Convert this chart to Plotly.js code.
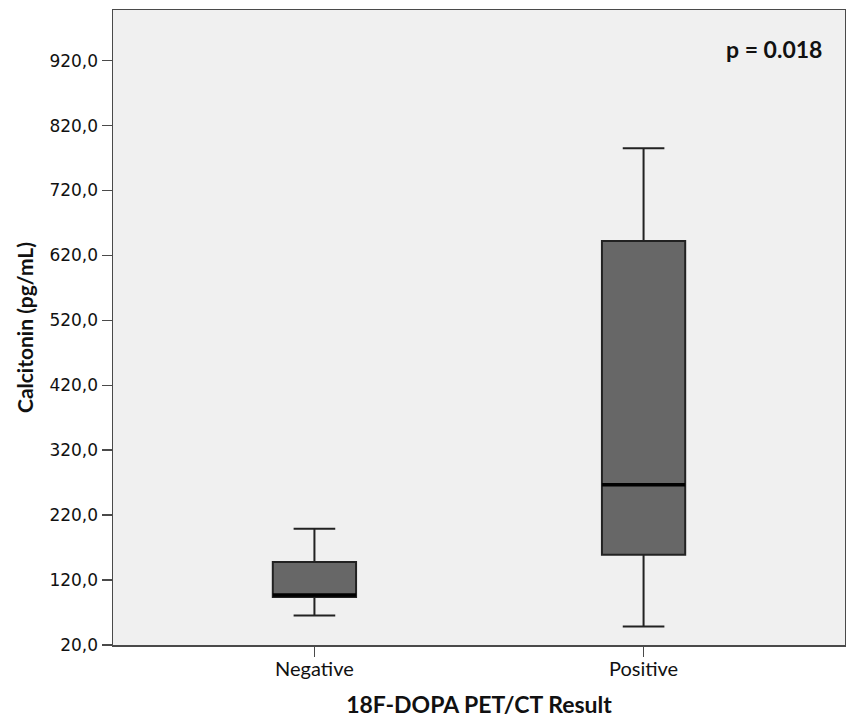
<!DOCTYPE html>
<html>
<head>
<meta charset="utf-8">
<script src="https://cdn.plot.ly/plotly-3.0.1.min.js"></script>
<style>html,body{margin:0;padding:0;background:#fff;}#chart{width:846px;height:718px;}</style>
</head>
<body>
<div id="chart"></div>
<script>
var categories = ["Negative", "Positive"];
var lowerWhisker = [65.6, 48.6];
var q1Values = [93.9, 159];
var medianValues = [97, 266.8];
var q3Values = [147.8, 642.4];
var upperWhisker = [199, 785];
var yTickValues = [20, 120, 220, 320, 420, 520, 620, 720, 820, 920];
var yTickLabels = ["20,0", "120,0", "220,0", "320,0", "420,0", "520,0", "620,0", "720,0", "820,0", "920,0"];
var pValueText = "p = 0.018";

var boxWidth = 0.253;

var trace = {
  type: "box",
  x: categories,
  lowerfence: lowerWhisker,
  q1: q1Values,
  median: medianValues,
  q3: q3Values,
  upperfence: upperWhisker,
  width: boxWidth,
  whiskerwidth: 0.5,
  fillcolor: "#676767",
  line: {color: "#222222", width: 2},
  hoverinfo: "skip",
  showlegend: false
};

var shapes = medianValues.map(function (m, i) {
  return {
    type: "line", xref: "x", yref: "y",
    x0: i - boxWidth / 2, x1: i + boxWidth / 2, y0: m, y1: m,
    line: {color: "#000000", width: 3.5}
  };
});

var layout = {
  width: 846, height: 718,
  margin: {l: 113, r: 1, t: 10, b: 73},
  paper_bgcolor: "#ffffff",
  plot_bgcolor: "#f0f0f0",
  showlegend: false,
  xaxis: {
    type: "category",
    range: [-0.612, 1.612],
    showgrid: false, zeroline: false,
    showline: true, linecolor: "#4a4a4a", linewidth: 1.5, mirror: true,
    ticks: "outside", ticklen: 10, tickwidth: 1.5, tickcolor: "#4a4a4a",
    ticklabelstandoff: -5,
    tickfont: {family: "Lato, 'Open Sans', sans-serif", size: 20, color: "#111"},
    title: {text: "18F-DOPA PET/CT Result", standoff: 21,
            font: {family: "Lato, 'Open Sans', sans-serif", size: 23, color: "#111", weight: "bold"}}
  },
  yaxis: {
    range: [20, 998],
    tickvals: yTickValues, ticktext: yTickLabels,
    showgrid: false, zeroline: false,
    showline: true, linecolor: "#4a4a4a", linewidth: 1.5, mirror: true,
    ticks: "outside", ticklen: 10, tickwidth: 1.5, tickcolor: "#4a4a4a",
    tickfont: {family: "'DejaVu Sans', sans-serif", size: 17, color: "#111"},
    title: {text: "Calcitonin (pg/mL)", standoff: 10,
            font: {family: "Lato, 'Open Sans', sans-serif", size: 21, color: "#111", weight: "bold"}}
  },
  shapes: shapes,
  annotations: [{
    text: "<b>" + pValueText + "</b>",
    xref: "paper", yref: "paper", x: 0.971, y: 0.9386,
    xanchor: "right", yanchor: "middle", showarrow: false,
    font: {family: "Lato, 'Open Sans', sans-serif", size: 23, color: "#111"}
  }]
};

Plotly.newPlot("chart", [trace], layout, {displayModeBar: false, staticPlot: true});
</script>
</body>
</html>
